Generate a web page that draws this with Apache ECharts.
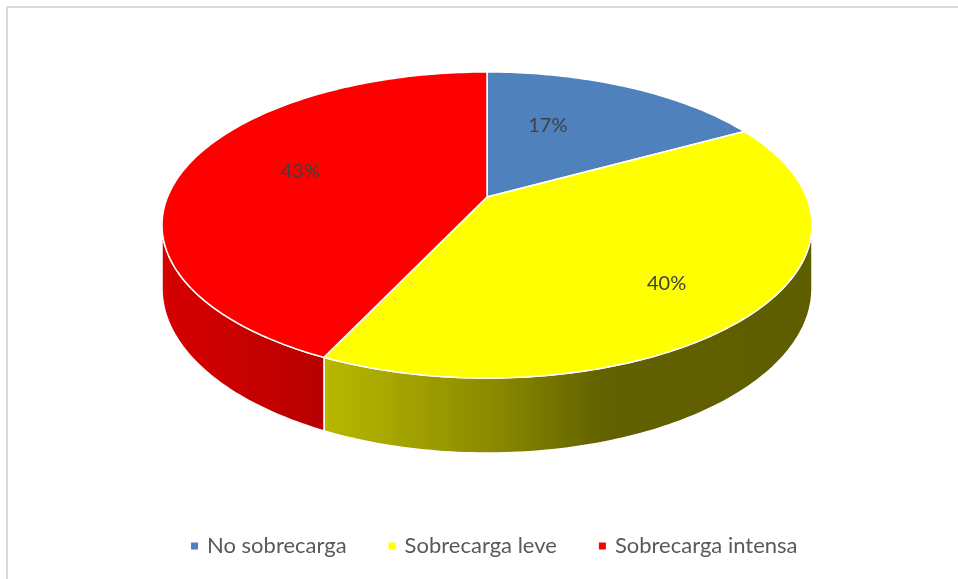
<!DOCTYPE html>
<html>
<head>
<meta charset="utf-8">
<script src="https://cdn.jsdelivr.net/npm/echarts@6/dist/echarts.min.js"></script>
<style>
  html, body { margin: 0; padding: 0; background: #ffffff; }
  #main { width: 958px; height: 579px; }
</style>
</head>
<body>
<div id="main"></div>
<script>
// Categories and their shares (percent)
const categories = ['No sobrecarga', 'Sobrecarga leve', 'Sobrecarga intensa'];
const values = [17, 40, 43];

// Palette for the slices
const palette = ['#4f81bd', '#ffff00', '#ff0000'];

// Geometry of the tilted pie (perspective projection of a flat disc)
const CX = 487, CY = 197;      // projected centre of the disc
const SX = 319.5, SY = 147.9;  // horizontal / depth scale
const P = 0.183;               // perspective strength
const H = 61.3;                // thickness of the disc
const VIS0 = Math.acos(-P) * 180 / Math.PI;  // silhouette angles
const VIS1 = 360 - VIS0;
// small label placement tweaks (px)
const labelNudge = [[-31, 0], [23, 18], [2, -6]];

const total = values.reduce((a, b) => a + b, 0);
const starts = [], ends = [];
let acc = 0;
values.forEach(v => { starts.push(acc / total * 360); acc += v; ends.push(acc / total * 360); });

function proj(deg, f, drop) {
  const t = deg * Math.PI / 180;
  const X = f * Math.sin(t), U = f * Math.cos(t);
  const d = 1 + P * U;
  return [CX + SX * X / d, CY - SY * U / d + drop * H / d];
}
function arc(a, b, drop) {
  const pts = [];
  const n = Math.max(2, Math.ceil(Math.abs(b - a)));
  for (let k = 0; k <= n; k++) pts.push(proj(a + (b - a) * k / n, 1, drop));
  return pts;
}
function shade(hex, k) {
  const r = parseInt(hex.slice(1, 3), 16), g = parseInt(hex.slice(3, 5), 16), b = parseInt(hex.slice(5, 7), 16);
  return 'rgb(' + Math.round(r * k) + ',' + Math.round(g * k) + ',' + Math.round(b * k) + ')';
}
function sideFill(hex) {
  const stops = [[0, 0.84], [0.25, 0.72], [0.5, 0.55], [0.68, 0.38], [1, 0.37]];
  return {
    type: 'linear', x: CX - SX * 1.02, y: 0, x2: CX + SX * 1.02, y2: 0, global: true,
    colorStops: stops.map(s => ({ offset: s[0], color: shade(hex, s[1]) }))
  };
}

const series = [];
// top faces with percentage labels
categories.forEach((name, i) => {
  series.push({
    type: 'custom', name: name, coordinateSystem: 'none', z: 3,
    itemStyle: { color: palette[i] },
    data: [[values[i]]],
    renderItem: function () {
      const pts = [proj(0, 0, 0)].concat(arc(starts[i], ends[i], 0));
      const mid = (starts[i] + ends[i]) / 2;
      const lp = proj(mid, 0.62, 0);
      const pct = Math.round(values[i] / total * 100) + '%';
      return {
        type: 'group',
        children: [
          { type: 'polygon', shape: { points: pts },
            style: { fill: palette[i], stroke: '#ffffff', lineWidth: 1.5, lineJoin: 'round' } },
          { type: 'text', x: lp[0] + labelNudge[i][0], y: lp[1] + labelNudge[i][1], z2: 10,
            style: { text: pct, fill: '#404040', font: '20px Lato', align: 'center', verticalAlign: 'middle',
                     textAlign: 'center', textVerticalAlign: 'middle' } }
        ]
      };
    }
  });
});
// visible outer walls
categories.forEach((name, i) => {
  series.push({
    type: 'custom', name: name, coordinateSystem: 'none', z: 2,
    itemStyle: { color: palette[i] },
    data: [[values[i]]],
    renderItem: function () {
      const a = Math.max(starts[i], VIS0), b = Math.min(ends[i], VIS1);
      if (a >= b) return { type: 'group', children: [] };
      const pts = arc(a, b, 0).concat(arc(b, a, 1));
      return { type: 'polygon', shape: { points: pts },
               style: { fill: sideFill(palette[i]), stroke: '#ffffff', lineWidth: 1.5, lineJoin: 'round' } };
    }
  });
});

const chart = echarts.init(document.getElementById('main'));
chart.setOption({
  animation: false,
  backgroundColor: '#ffffff',
  graphic: [
    { type: 'line', shape: { x1: 7, y1: 7, x2: 958, y2: 7 }, style: { stroke: '#d9d9d9', lineWidth: 2 } },
    { type: 'line', shape: { x1: 7, y1: 7, x2: 7, y2: 579 }, style: { stroke: '#d9d9d9', lineWidth: 2 } }
  ],
  legend: {
    data: categories,
    left: 186, bottom: 17,
    icon: 'rect', itemWidth: 7, itemHeight: 7, itemGap: 42,
    selectedMode: false,
    textStyle: { fontFamily: 'Lato', fontSize: 22, color: '#595959', padding: [0, 0, 0, 4] }
  },
  series: series
});
</script>
</body>
</html>
